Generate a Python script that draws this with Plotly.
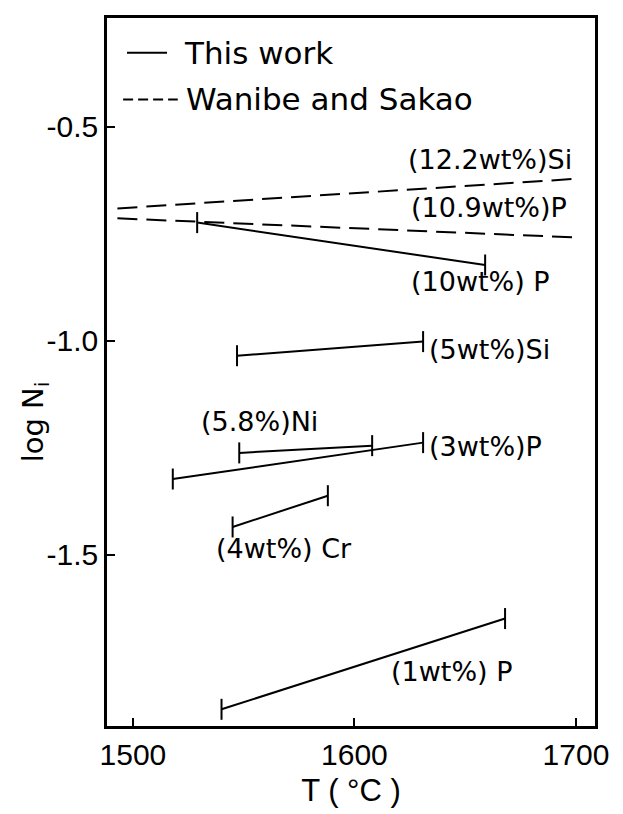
import plotly.graph_objects as go

# Measured segments: temperature range (deg C) and log N_i at each end
work_labels = ["(10wt%) P", "(5wt%)Si", "(5.8%)Ni", "(3wt%)P", "(4wt%) Cr", "(1wt%) P"]
work_t_start = [1529, 1547, 1548, 1518, 1545, 1540]
work_t_end = [1659, 1631, 1608, 1631, 1588, 1668]
work_logn_start = [-0.724, -1.035, -1.262, -1.323, -1.435, -1.861]
work_logn_end = [-0.823, -1.002, -1.245, -1.238, -1.362, -1.649]

# Wanibe and Sakao lines
ws_labels = ["(12.2wt%)Si", "(10.9wt%)P"]
ws_t_start = [1493, 1493]
ws_t_end = [1702, 1701]
ws_logn_start = [-0.691, -0.714]
ws_logn_end = [-0.621, -0.759]

x_ticks = [1500, 1600, 1700]
x_tick_text = ["1500", "1600", "1700"]
y_ticks = [-0.5, -1.0, -1.5]
y_tick_text = ["-0.5", "-1.0", "-1.5"]

AXIS_FONT = "Liberation Sans"
TEXT_FONT = "DejaVu Sans"
INK = "black"

fig = go.Figure()

for i in range(len(work_labels)):
    fig.add_trace(go.Scatter(
        x=[work_t_start[i], work_t_end[i]],
        y=[work_logn_start[i], work_logn_end[i]],
        mode="lines+markers",
        line=dict(color=INK, width=2),
        marker=dict(symbol="line-ns", size=15, color=INK,
                    line=dict(color=INK, width=2)),
        showlegend=False,
        hoverinfo="skip",
    ))

for i in range(len(ws_labels)):
    fig.add_trace(go.Scatter(
        x=[ws_t_start[i], ws_t_end[i]],
        y=[ws_logn_start[i], ws_logn_end[i]],
        mode="lines",
        line=dict(color=INK, width=2, dash="20px,9px"),
        showlegend=False,
        hoverinfo="skip",
    ))

# text placement for each curve label: (x, y, anchor)
label_places = {
    "(12.2wt%)Si": (1699.0, -0.577, "right"),
    "(10.9wt%)P": (1697.0, -0.689, "right"),
    "(10wt%) P": (1624.5, -0.861, "left"),
    "(5wt%)Si": (1632.8, -1.020, "left"),
    "(5.8%)Ni": (1530.0, -1.188, "left"),
    "(3wt%)P": (1632.8, -1.248, "left"),
    "(4wt%) Cr": (1536.5, -1.486, "left"),
    "(1wt%) P": (1615.5, -1.773, "left"),
}
for name in ws_labels + work_labels:
    lx, ly, anchor = label_places[name]
    fig.add_annotation(x=lx, y=ly, xref="x", yref="y", text=name,
                       showarrow=False, xanchor=anchor, yanchor="middle",
                       font=dict(family=TEXT_FONT, size=27, color=INK))

# key in the upper-left corner
fig.add_shape(type="line", xref="paper", yref="paper",
              x0=0.041, x1=0.123, y0=0.951, y1=0.951,
              line=dict(color=INK, width=2))
fig.add_shape(type="line", xref="paper", yref="paper",
              x0=0.033, x1=0.145, y0=0.885, y1=0.885,
              line=dict(color=INK, width=2, dash="10px,5px"))
fig.add_annotation(x=0.154, y=0.951, xref="paper", yref="paper",
                   text="This work", showarrow=False, xanchor="left",
                   yanchor="middle", font=dict(family=TEXT_FONT, size=31, color=INK))
fig.add_annotation(x=0.158, y=0.885, xref="paper", yref="paper",
                   text="Wanibe and Sakao", showarrow=False, xanchor="left",
                   yanchor="middle", font=dict(family=TEXT_FONT, size=31, color=INK))

# y-axis title
fig.add_annotation(x=-0.148, y=0.430, xref="paper", yref="paper",
                   text="log N<sub>i</sub>", showarrow=False, textangle=-90,
                   xanchor="center", yanchor="middle",
                   font=dict(family=TEXT_FONT, size=29, color=INK))

fig.update_xaxes(
    range=[1488.3, 1708.6],
    tickvals=x_ticks, ticktext=x_tick_text,
    ticks="inside", ticklen=8, tickwidth=2, tickcolor=INK,
    showline=True, linecolor=INK, linewidth=2.5, mirror=True,
    showgrid=False, zeroline=False,
    tickfont=dict(family=AXIS_FONT, size=30, color=INK),
    title=dict(text="T ( °C )", font=dict(family=AXIS_FONT, size=31, color=INK),
               standoff=10),
)
fig.update_yaxes(
    range=[-1.90, -0.246],
    tickvals=y_ticks, ticktext=y_tick_text,
    ticks="inside", ticklen=8, tickwidth=2, tickcolor=INK,
    showline=True, linecolor=INK, linewidth=2.5, mirror=True,
    showgrid=False, zeroline=False,
    tickfont=dict(family=AXIS_FONT, size=30, color=INK),
)

fig.update_layout(
    width=623, height=814,
    margin=dict(l=107, r=28, t=18, b=86),
    plot_bgcolor="white", paper_bgcolor="white",
    showlegend=False,
)

fig.write_html("out.html")
